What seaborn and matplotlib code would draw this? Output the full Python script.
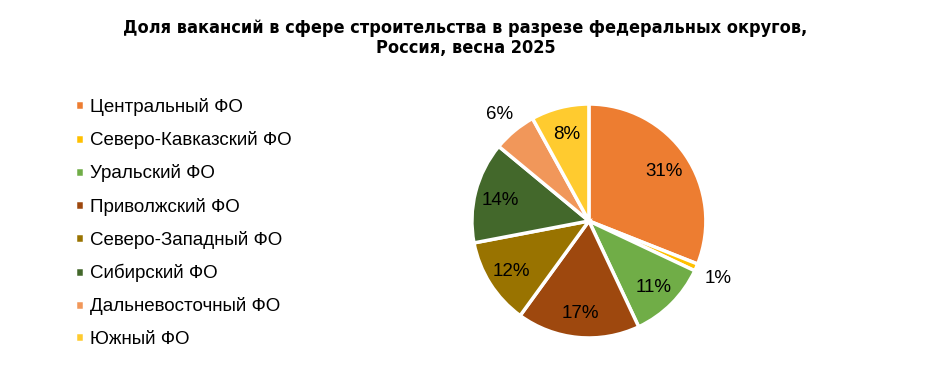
import matplotlib
matplotlib.use("Agg")
import matplotlib.pyplot as plt
import numpy as np
import seaborn as sns

sns.set_theme(style="white")
plt.rcParams["font.family"] = ["Liberation Sans", "DejaVu Sans"]
plt.rcParams["text.color"] = "black"

regions = ["Центральный ФО", "Северо-Кавказский ФО", "Уральский ФО",
           "Приволжский ФО", "Северо-Западный ФО", "Сибирский ФО",
           "Дальневосточный ФО", "Южный ФО"]
shares = [31, 1, 11, 17, 12, 14, 6, 8]
colors = ["#ED7D31", "#FFC000", "#70AD47", "#9E480E",
          "#997300", "#43682B", "#F1975A", "#FFCB2F"]
outside = [False, True, False, False, False, False, True, False]

pal = sns.color_palette(colors)

fig = plt.figure(figsize=(9.31, 3.82), dpi=100)
ax = fig.add_axes([0.5069, 0.1152, 0.2513, 0.6126])
wedges, _ = ax.pie(shares, colors=pal, startangle=90, counterclock=False,
                   wedgeprops=dict(edgecolor="white", linewidth=2.5))
ax.set_xlim(-1, 1)
ax.set_ylim(-1, 1)
ax.set_aspect("equal")

for w, v, out in zip(wedges, shares, outside):
    ang = np.deg2rad((w.theta1 + w.theta2) / 2)
    r = 1.2 if out else 0.78
    ax.text(r * np.cos(ang), r * np.sin(ang), f"{v}%", ha="center",
            va="center_baseline", fontsize=13.5, color="black")

fig.suptitle("Доля вакансий в сфере строительства в разрезе федеральных округов,\nРоссия, весна 2025",
             x=0.5, y=0.95, fontsize=13, fontweight="bold", fontstretch="condensed",
             family=["DejaVu Sans"], linespacing=1.1, color="black")

fig.legend(wedges, regions, loc="upper left", bbox_to_anchor=(0.073, 0.763),
           frameon=False, fontsize=13.5, handlelength=0.45, handleheight=0.45,
           handletextpad=0.35, labelspacing=0.81, borderaxespad=0)

fig.savefig("out.png", dpi=100)
